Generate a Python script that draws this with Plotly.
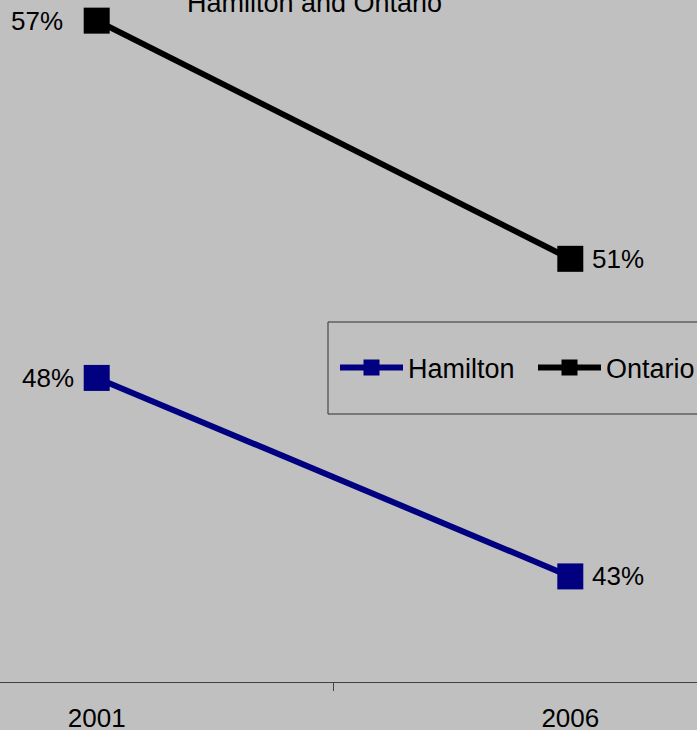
import plotly.graph_objects as go

years = ["2001", "2006"]
hamilton = [48, 43]
ontario = [57, 51]
series_names = ["Hamilton", "Ontario"]
title_text = "Hamilton and Ontario"

xpos = list(range(len(years)))
W, H = 697, 730
BG = "#C0C0C0"
FONT = "Liberation Sans, Arial, sans-serif"
PLOT_H = 682

fig = go.Figure()
series = [(series_names[0], hamilton, "#000080", [-21, 20], "legend", 335),
          (series_names[1], ontario, "#000000", [-32, 20], "legend2", 533)]
annotations = []
legends = {}
for name, vals, col, shifts, leg, lx in series:
    fig.add_trace(go.Scatter(
        x=xpos, y=vals, name=name, mode="lines+markers",
        line=dict(color=col, width=6),
        marker=dict(symbol="square", size=26, color=col),
        cliponaxis=False, legend=leg,
    ))
    legends[leg] = dict(orientation="h", xref="container", yref="container",
                        x=lx / W, xanchor="left", y=1 - 368 / H,
                        yanchor="middle", bgcolor="rgba(0,0,0,0)", borderwidth=0,
                        font=dict(size=27, family=FONT), itemwidth=63)
    for xi, v, s in zip(xpos, vals, shifts):
        annotations.append(dict(x=xi, y=v, xref="x", yref="y", text=f"{v}%", showarrow=False,
                                xanchor="right" if s < 0 else "left", yanchor="middle",
                                xshift=s, font=dict(size=26, family=FONT, color="#000000")))

annotations.append(dict(text=title_text, xref="paper", yref="paper", x=314.5 / W, y=1,
                        xanchor="center", yanchor="middle", yshift=-3, showarrow=False,
                        font=dict(size=27, family=FONT, color="#000000")))

fig.update_layout(
    width=W, height=H,
    margin=dict(l=0, r=0, t=0, b=H - PLOT_H, autoexpand=False),
    paper_bgcolor=BG, plot_bgcolor=BG,
    font=dict(family=FONT, size=26, color="#000000"),
    showlegend=True,
    xaxis=dict(range=[-96.7 / 473.6, (697 - 96.7) / 473.6], tickvals=xpos, ticktext=years,
               ticks="", showgrid=False, zeroline=False, showline=True,
               linecolor="#404040", linewidth=1, ticklabelstandoff=13,
               tickfont=dict(size=26, family=FONT),
               minor=dict(ticks="outside", tick0=0.5, dtick=1, ticklen=8,
                          tickcolor="#404040", tickwidth=1, showgrid=False)),
    yaxis=dict(range=[40.34, 57.52], visible=False, showgrid=False, zeroline=False),
    shapes=[dict(type="rect", xref="paper", yref="paper",
                 x0=328 / W, x1=1.02, y0=1 - 414 / PLOT_H, y1=1 - 322 / PLOT_H,
                 line=dict(color="#303030", width=1), fillcolor="rgba(0,0,0,0)")],
    annotations=annotations,
    **legends,
)

fig.write_html("out.html", config={"displayModeBar": False},
               post_script="document.body.style.margin='0';document.body.style.padding='0';"
                           "document.documentElement.style.overflow='hidden';")
